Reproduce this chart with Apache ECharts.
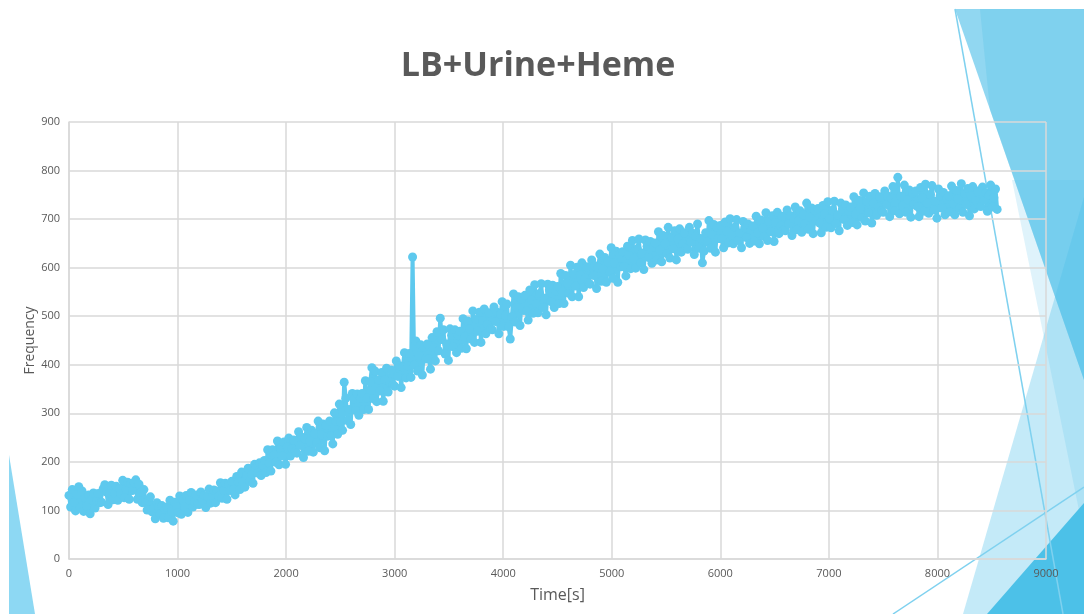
<!DOCTYPE html>
<html>
<head>
<meta charset="utf-8">
<title>LB+Urine+Heme</title>
<script src="https://cdn.jsdelivr.net/npm/echarts@6/dist/echarts.min.js"></script>
<style>
  html, body { margin: 0; padding: 0; background: #ffffff; }
  #chart { width: 1084px; height: 614px; }
</style>
</head>
<body>
<div id="chart"></div>
<script>
// Sampling interval of the frequency readings, in seconds
const sampleStep = 15;

// Frequency readings, one per sample (starting at t = 0 s), 20 per row = 300 s
const frequency = [
  131,107,143,116,99,133,149,105,140,98,125,109,132,93,122,136,105,119,135,116,        // 0 s
  117,145,153,138,112,136,152,122,136,150,121,145,134,162,126,144,158,123,155,141,     // 300 s
  157,163,123,154,137,116,143,116,101,120,128,97,105,83,116,107,93,110,84,102,         // 600 s
  107,85,121,98,78,117,107,95,130,92,121,107,131,96,122,137,107,118,132,113,           // 900 s
  112,138,121,131,106,129,144,115,128,142,116,140,129,157,125,142,156,123,154,141,     // 1200 s
  160,143,132,170,159,143,179,158,148,173,187,160,174,156,195,188,177,198,172,193,     // 1500 s
  203,178,225,197,181,225,214,199,243,194,229,212,241,195,231,249,212,227,245,222,     // 1800 s
  218,262,234,251,209,247,271,222,243,265,220,258,239,284,229,256,278,223,275,253,     // 2100 s
  284,254,237,301,283,257,319,282,265,364,331,285,308,277,341,329,306,340,296,331,     // 2400 s
  341,308,367,331,308,365,394,330,387,324,369,346,384,325,369,393,344,364,389,359,     // 2700 s
  356,408,376,398,353,396,425,373,398,423,374,622,399,449,387,418,441,379,437,412,     // 3000 s
  443,412,391,456,435,408,468,429,496,452,472,422,443,409,474,461,437,472,425,460,     // 3300 s
  469,434,495,457,433,490,474,453,511,446,493,469,508,446,491,515,464,483,507,474,     // 3600 s
  472,519,489,508,464,504,530,479,502,525,478,453,499,546,488,518,540,481,536,512,     // 3900 s
  543,511,492,554,533,506,565,526,507,547,567,518,537,503,566,554,530,564,518,552,     // 4200 s
  561,526,588,550,526,584,568,547,605,540,586,562,601,540,585,610,559,578,602,569,     // 4500 s
  566,616,584,604,557,600,628,572,597,621,570,612,591,641,578,610,634,570,628,602,     // 4800 s
  633,602,583,644,625,598,656,618,599,639,659,610,630,596,657,644,621,654,609,642,     // 5100 s
  651,616,674,636,612,666,650,629,683,620,663,639,676,616,659,680,632,649,672,640,     // 5400 s
  638,683,653,671,627,665,690,640,660,610,634,672,653,697,640,668,689,632,683,660,     // 5700 s
  687,659,641,694,675,651,701,667,649,683,699,656,672,641,695,682,662,690,650,678,     // 6000 s
  686,655,706,672,649,698,682,664,713,656,696,674,707,654,693,714,670,686,706,678,     // 6300 s
  676,719,690,707,666,701,725,678,697,717,673,709,690,733,679,704,723,670,718,696,     // 6600 s
  722,692,672,728,710,683,736,701,682,719,737,691,709,676,733,721,699,729,687,717,     // 6900 s
  725,693,746,710,688,739,723,703,754,696,736,713,747,692,733,753,708,725,746,717,     // 7200 s
  714,758,730,747,705,743,767,717,737,786,711,747,727,770,714,740,760,704,754,730,     // 7500 s
  758,726,705,765,744,716,772,733,712,751,769,719,737,702,762,748,723,755,709,741,     // 7800 s
  748,715,768,732,709,759,742,722,773,714,753,730,763,707,748,767,721,738,758,728,     // 8100 s
  726,766,739,754,716,749,770,725,744,762,720                                          // 8400 s
];

const titleText = 'LB+Urine+Heme';
const xAxisName = 'Time[s]';
const yAxisName = 'Frequency';

const points = frequency.map((v, i) => [i * sampleStep, v]);

const textGray = '#595959';
const gridGray = '#d9d9d9';
const seriesBlue = '#5ec9ee';
const fontFamily = '"Open Sans", "Noto Sans", sans-serif';

// Slide decoration: translucent facets on the right and lower-left edges
const facet = (pts, fill) => ({
  type: 'polygon', silent: true, z: -10,
  shape: { points: pts }, style: { fill: fill }
});
const rule = (x1, y1, x2, y2) => ({
  type: 'line', silent: true, z: -9,
  shape: { x1: x1, y1: y1, x2: x2, y2: y2 },
  style: { stroke: '#7fd1ef', lineWidth: 1.5 }
});

const plainNumber = (v) => String(v);

const chart = echarts.init(document.getElementById('chart'), null, { renderer: 'canvas' });
chart.setOption({
  animation: false,
  backgroundColor: '#ffffff',
  textStyle: { fontFamily: fontFamily },
  graphic: [
    facet([[9, 455], [9, 614], [35, 614]], '#8dd8f3'),
    facet([[1012, 180], [1084, 180], [1084, 614], [1100, 614]], 'rgba(77,190,233,0.18)'),
    facet([[955, 9], [1084, 9], [1084, 380]], 'rgba(77,190,233,0.62)'),
    facet([[980, 9], [1084, 9], [1084, 380], [990, 110]], 'rgba(77,190,233,0.25)'),
    facet([[963, 614], [1084, 197], [1084, 614]], 'rgba(77,190,233,0.33)'),
    facet([[987, 614], [1084, 503], [1084, 614]], '#4cc1e8'),
    rule(955, 9, 1063, 614),
    rule(893, 614, 1084, 487),
    {
      type: 'text', silent: true, x: 538, y: 66,
      style: {
        text: titleText, align: 'center', verticalAlign: 'middle',
        font: 'bold 34px ' + fontFamily, fill: textGray
      }
    }
  ],
  grid: { left: 69, right: 38, top: 122, bottom: 55, containLabel: false },
  xAxis: {
    type: 'value', min: 0, max: 9000, interval: 1000,
    name: xAxisName, nameLocation: 'middle', nameGap: 28, nameMoveOverlap: false,
    nameTextStyle: { color: textGray, fontSize: 16, fontFamily: fontFamily },
    axisLine: { show: true, lineStyle: { color: gridGray, width: 1.5 } },
    axisTick: { show: false },
    axisLabel: { color: textGray, fontSize: 11, margin: 9, fontFamily: fontFamily, formatter: plainNumber },
    splitLine: { show: true, lineStyle: { color: gridGray, width: 1.5 } }
  },
  yAxis: {
    type: 'value', min: 0, max: 900, interval: 100,
    name: yAxisName, nameLocation: 'middle', nameGap: 32, nameMoveOverlap: false,
    nameTextStyle: { color: textGray, fontSize: 14, fontFamily: fontFamily },
    axisLine: { show: true, lineStyle: { color: gridGray, width: 1.5 } },
    axisTick: { show: false },
    axisLabel: { color: textGray, fontSize: 11, margin: 9, fontFamily: fontFamily, formatter: plainNumber },
    splitLine: { show: true, lineStyle: { color: gridGray, width: 1.5 } }
  },
  series: [{
    type: 'line',
    data: points,
    symbol: 'circle',
    symbolSize: 9,
    showSymbol: true,
    showAllSymbol: true,
    itemStyle: { color: seriesBlue, borderWidth: 0 },
    lineStyle: { color: seriesBlue, width: 4 },
    emphasis: { disabled: true },
    z: 3
  }]
});
</script>
</body>
</html>
